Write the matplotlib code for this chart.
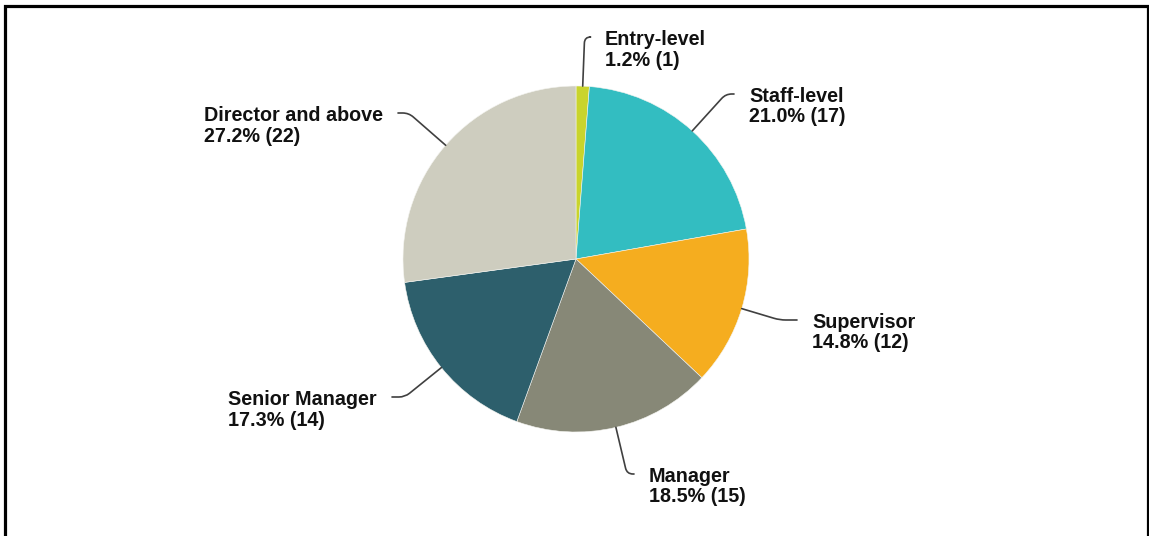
import matplotlib
matplotlib.use("Agg")
import matplotlib.pyplot as plt
import numpy as np

# Respondents by job level
levels = ["Entry-level", "Staff-level", "Supervisor", "Manager",
          "Senior Manager", "Director and above"]
counts = [1, 17, 12, 15, 14, 22]
colors = ["#c9d42c", "#33bdc1", "#f5ad1f", "#878877", "#2d5f6c", "#cecdbf"]

W, H = 1149, 536
fig = plt.figure(figsize=(W / 100, H / 100), dpi=100)
ax = fig.add_axes([0, 0, 1, 1])

cx, cy, r = 576, 277, 173
wedges, _ = ax.pie(counts, colors=colors, startangle=90, counterclock=False,
                   radius=r, center=(cx, cy),
                   wedgeprops=dict(edgecolor="#f4f4f0", linewidth=0.4))
ax.set_xlim(0, W)
ax.set_ylim(0, H)
ax.set_aspect("auto")
ax.axis("off")

# Label anchor: (x of text edge, y of first-line cap top, side)
label_pos = [
    (605, 506, "left"),
    (749, 449, "left"),
    (812, 223, "left"),
    (649, 69, "left"),
    (377, 146, "right"),
    (383, 430, "right"),
]

total = sum(counts)
gap = 15
for w, name, n, (tx, ty, side) in zip(wedges, levels, counts, label_pos):
    mid = np.deg2rad((w.theta1 + w.theta2) / 2)
    edge = (cx + r * np.cos(mid), cy + r * np.sin(mid))
    ey = ty - 7
    ex = tx - gap if side == "left" else tx + gap
    ax.annotate("", xy=edge, xytext=(ex, ey),
                arrowprops=dict(arrowstyle="-", color="#404040", lw=1.2,
                                shrinkA=0, shrinkB=0,
                                connectionstyle=f"angle,angleA=0,angleB={np.rad2deg(mid):.2f},rad=6"))
    pct = 100 * n / total
    ax.text(tx, ty, f"{name}\n{pct:.1f}% ({n})", ha=side, va="top",
            multialignment="left", fontsize=14.2, fontweight="bold",
            family="Liberation Sans", linespacing=1.1, color="#111111")

# Open frame around the chart
ax.plot([5, 5, 1148, 1148], [-5, 530, 530, -5], color="black", lw=2.3,
        clip_on=False, solid_joinstyle="miter")

fig.savefig("out.png", dpi=100, facecolor="white")
